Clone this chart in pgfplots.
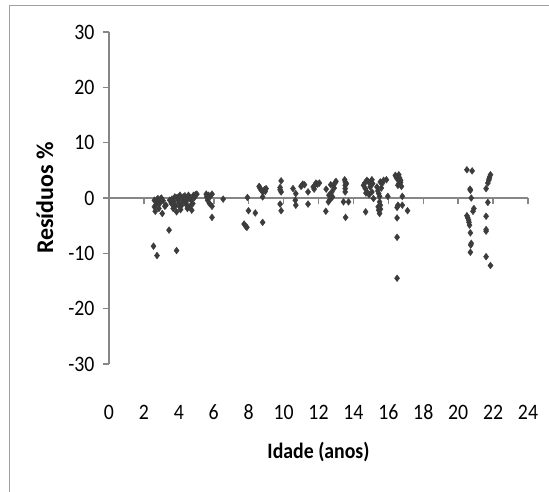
\documentclass[border=0pt]{standalone}
\usepackage{fontspec}
\setmainfont{Carlito}[FakeStretch=0.9]
\newfontfamily\ylabfont{Carlito}
\usepackage{pgfplots}
\pgfplotsset{compat=1.18}
\definecolor{axisgray}{HTML}{868686}
\definecolor{markgray}{HTML}{3C3C3C}
\definecolor{framegray}{HTML}{A0A0A0}

% residuos (%) versus idade (anos)
\pgfplotstableread{
x y
2.55 -8.7
2.75 -10.4
2.6 -0.4
2.7 -0.7
2.8 -0.1
2.65 -2.4
2.86 -1.9
3.05 -2.8
2.9 -1.0
2.75 -0.3
2.95 -0.2
3.0 0.0
2.7 -1.2
2.6 -1.6
3.1 -0.5
3.2 -1.5
3.26 -1.3
3.44 -5.8
3.87 -9.5
3.48 -0.4
3.58 -1.0
3.68 -1.9
3.77 0.2
3.87 -2.5
3.97 -0.4
4.06 0.5
4.16 -1.3
4.26 0.2
4.41 -0.9
4.49 -1.9
4.6 0.2
4.74 -2.2
4.84 0.5
5.03 0.7
3.6 -0.2
3.7 -0.6
3.8 -1.4
3.9 0.1
4.0 -0.9
4.1 -2.1
4.05 -1.6
4.2 -0.3
4.3 -0.6
4.35 0.4
4.5 -0.2
4.55 0.5
4.65 -1.5
4.7 -0.4
4.8 -1.0
4.9 0.1
4.95 0.6
4.45 -1.3
5.57 0.7
5.7 0.5
5.9 0.7
5.65 -0.4
5.76 -1.0
5.9 -1.5
5.9 -3.5
5.8 0.3
5.6 0.2
6.54 -0.2
7.93 0.1
7.99 -2.3
7.74 -4.7
7.83 -5.1
7.9 -5.3
8.38 -2.7
8.8 -4.4
8.6 2.1
8.7 1.5
8.8 1.1
8.9 1.5
9.0 1.7
8.8 0.2
8.65 1.8
8.95 1.2
9.86 3.1
9.8 1.5
9.86 1.1
9.8 -1.1
9.86 -2.3
9.8 1.9
10.54 1.7
10.7 0.8
10.67 -0.4
10.7 -1.3
11.0 2.1
11.1 2.5
11.2 2.4
11.05 2.3
11.4 1.1
11.4 -1.1
11.7 2.0
11.8 2.3
11.85 2.7
11.95 2.5
12.05 2.7
11.75 1.6
12.44 1.6
12.42 -2.4
12.57 -0.7
12.66 -0.3
12.76 1.1
12.86 2.3
12.96 2.8
12.7 2.4
12.8 0.2
12.9 1.8
12.6 0.5
13.0 3.0
13.53 2.9
13.53 2.3
13.53 1.7
13.53 1.1
13.43 -0.7
13.72 -0.7
13.55 -3.5
13.6 2.6
13.5 3.3
14.58 2.3
14.68 1.7
14.77 3.2
14.87 2.9
14.96 2.0
15.06 3.3
15.06 1.1
15.15 -0.1
14.7 -2.5
14.65 2.7
14.8 1.0
14.9 0.6
15.0 3.0
14.72 0.9
15.1 2.6
15.35 2.0
15.45 0.8
15.54 2.9
15.64 2.6
15.73 3.2
15.89 3.3
15.5 -0.7
15.54 -1.3
15.45 -2.2
15.5 -2.8
15.97 0.3
15.4 1.3
15.6 1.8
15.42 -1.6
15.55 -2.0
15.5 0.3
16.4 4.1
16.5 3.5
16.7 3.2
16.6 2.6
16.75 2.1
16.55 2.3
16.45 3.8
16.65 3.6
16.7 2.8
16.8 0.3
16.55 -1.3
16.5 -1.7
16.8 -1.3
16.5 -3.6
16.5 -7.1
16.5 -14.5
17.1 -2.3
16.6 4.2
20.5 5.1
20.8 4.9
20.7 1.4
20.75 0.0
20.9 -1.9
20.85 -2.4
20.5 -3.2
20.6 -4.0
20.65 -4.9
20.7 -6.3
20.75 -8.2
20.7 -9.8
20.55 -3.6
20.68 1.6
20.72 -8.5
20.62 -4.4
21.6 1.7
21.7 2.7
21.8 3.8
21.75 3.2
21.85 4.2
21.7 -0.8
21.6 -3.3
21.6 -6.0
21.6 -5.7
21.6 -10.6
21.85 -12.2
21.78 3.5
}\residuos

\begin{document}
\begin{tikzpicture}
\useasboundingbox (0,0) rectangle (549pt,-492pt);
\draw[framegray, line width=1pt] (9.5pt,-492pt) -- (9.5pt,-6pt) -- (549pt,-6pt);
\begin{axis}[
    at={(109pt,-364pt)}, anchor=south west,
    scale only axis,
    width=419pt, height=332pt,
    xmin=0, xmax=24, ymin=-30, ymax=30,
    axis x line*=middle, axis y line*=left,
    hide obscured x ticks=false,
    xtick={0,2,...,24}, ytick={-30,-20,...,30},
    tick align=outside, major tick length=6pt,
    axis line style={axisgray, line width=1.5pt},
    tick style={axisgray, line width=1.5pt},
    /pgf/number format/assume math mode=true,
    ticklabel style={font=\fontsize{22}{22}\selectfont, text=black},
    xticklabel style={anchor=center, yshift=-208pt},
    yticklabel style={xshift=-5pt},
    xlabel={Idade (anos)},
    ylabel={Resíduos \%},
    xlabel style={at={(axis description cs:0.5,-0.265)}, anchor=center,
        font=\bfseries\fontsize{22}{22}\selectfont},
    ylabel style={at={(axis description cs:-0.153,0.5)}, anchor=center,
        font=\ylabfont\bfseries\fontsize{24}{24}\selectfont},
]
\addplot[only marks, mark=diamond*, mark size=3.4pt, color=markgray] table {\residuos};
\end{axis}
\end{tikzpicture}
\end{document}
